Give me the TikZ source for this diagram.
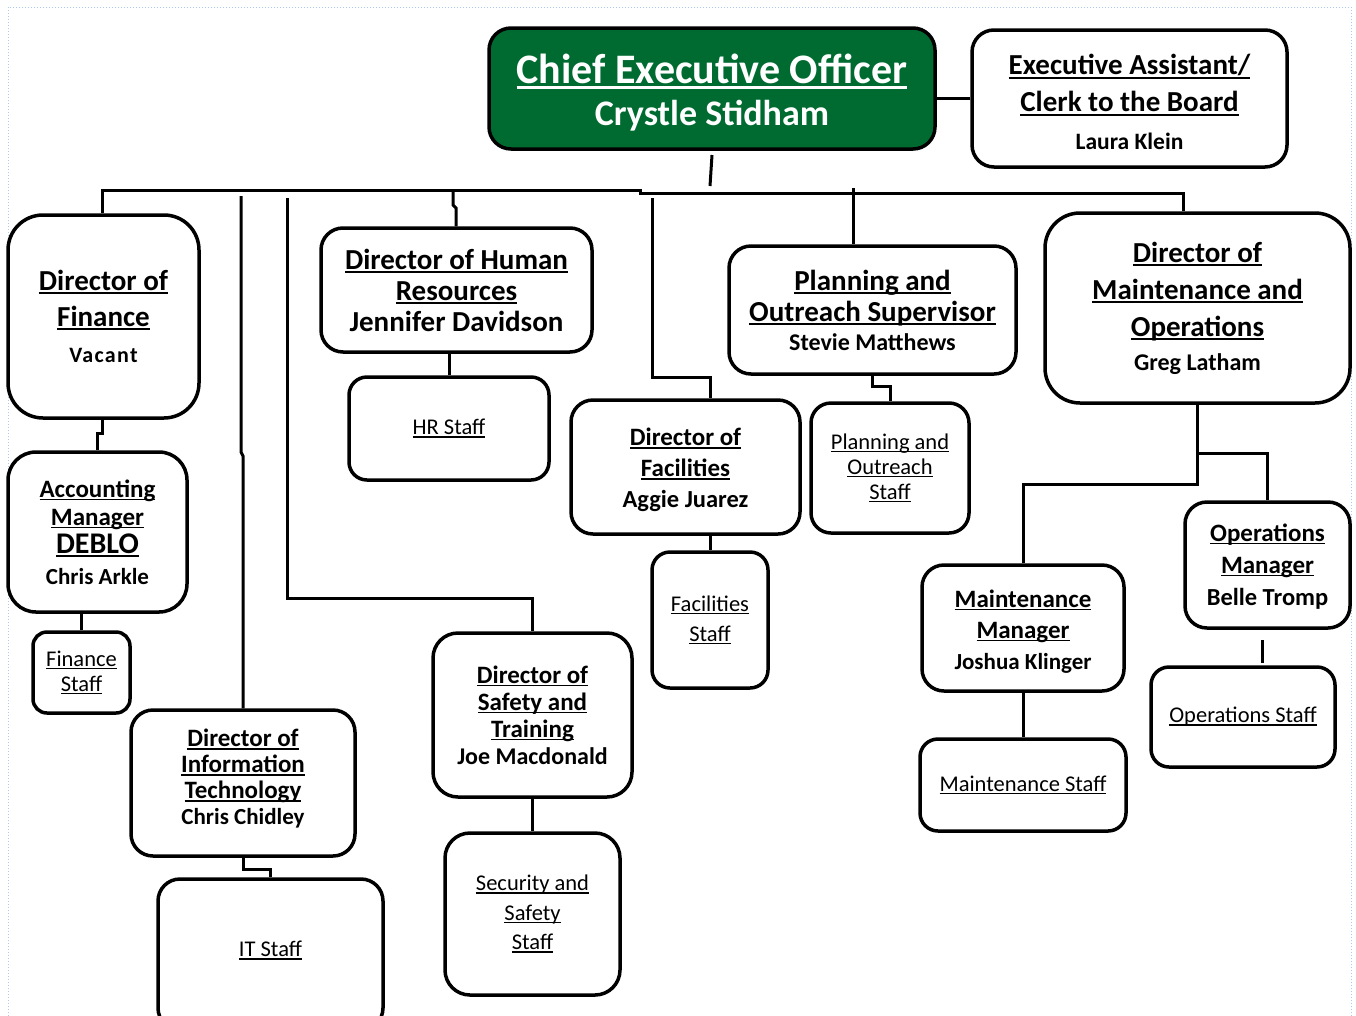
\documentclass[tikz,border=0pt]{standalone}
\usepackage{fontspec}
\setmainfont{Carlito}
\newfontfamily\spaced{Carlito}[LetterSpace=6]
\definecolor{ceogreen}{RGB}{0,107,49}
\definecolor{dotblue}{RGB}{170,200,240}
\newcommand{\fs}[2]{\fontsize{#1}{#2}\selectfont}
\newcommand{\tall}[1]{\rule{0pt}{#1}}
\newcommand{\deep}[1]{\rule[-#1]{0pt}{#1}}
\newsavebox\myulbox
\newcommand{\uline}[1]{\sbox\myulbox{#1}\rlap{\usebox\myulbox}\rule[-0.13em]{\wd\myulbox}{0.065em}}
\tikzset{
  box/.style={draw=black, line width=3.5pt, rounded corners=18pt, fill=white,
    align=center, inner sep=0pt},
  staff/.style={box, font=\fs{22.5}{25}},
  conn/.style={draw=black, line width=3pt},
}
\begin{document}
\begin{tikzpicture}[x=1pt,y=-1pt]
\useasboundingbox (0,0) rectangle (1356,1015);
\clip (0,0) rectangle (1356,1015);
\draw[dotblue, dotted, line width=1pt] (8,7) rectangle (1351,1040);

% ---- nodes ----
\node[box, fill=ceogreen, text=white, rounded corners=22pt, minimum width=446, minimum height=121,
  font=\bfseries\fs{42}{42}] (ceo) at (712,88.5) {\tall{37.5pt}\uline{Chief Executive Officer}\\{\fs{36}{40}Crystle Stidham}};
\node[box, rounded corners=22pt, minimum width=315, minimum height=137, font=\bfseries\fs{29}{37}]
  (ea) at (1129.5,98.5) {\tall{28pt}\uline{Executive Assistant/}\\\uline{Clerk to the Board}\\[1pt]{\fs{23.5}{24}Laura Klein}};

\node[box, rounded corners=35pt, minimum width=191, minimum height=203, font=\bfseries\fs{29}{36}]
  (fin) at (103.5,316.5) {\uline{Director of}\\\uline{Finance}\\{\spaced\fs{22}{24}Vacant}};
\node[box, rounded corners=28pt, minimum width=179, minimum height=160, font=\bfseries\fs{25}{28}]
  (acc) at (97.5,532) {\uline{Accounting}\\\uline{Manager}\\{\fs{30}{30}\uline{DEBLO}}\\[3pt]{\fs{23}{24}Chris Arkle}};
\node[staff, rounded corners=14pt, minimum width=97, minimum height=81]
  (finst) at (81.5,672.5) {\uline{Finance}\\\uline{Staff}};

\node[box, rounded corners=22pt, minimum width=224, minimum height=146, font=\bfseries\fs{25}{26}]
  (itdir) at (243,783) {\uline{Director of}\\\uline{Information}\\\uline{Technology}\\{\fs{23}{24}Chris Chidley\deep{12pt}}};
\node[staff, rounded corners=22pt, minimum width=225, minimum height=151]
  (itst) at (270.5,954.5) {\uline{IT Staff}\deep{11pt}};

\node[box, rounded corners=25pt, minimum width=199, minimum height=164, font=\bfseries\fs{25}{27}]
  (safety) at (532.5,715) {\uline{Director of}\\\uline{Safety and}\\\uline{Training}\\{\fs{24}{24}Joe Macdonald}};
\node[staff, rounded corners=25pt, minimum width=175, minimum height=162, font=\fs{22.5}{29.5}]
  (secst) at (532.5,914) {\uline{Security and}\\\uline{Safety}\\\uline{Staff}};

\node[box, rounded corners=22pt, minimum width=271, minimum height=124, font=\bfseries\fs{29}{31}]
  (hr) at (456.5,290) {\uline{Director of Human}\\\uline{Resources}\\Jennifer Davidson};
\node[staff, rounded corners=18pt, minimum width=200, minimum height=103]
  (hrst) at (449,428.5) {\uline{HR Staff}};

\node[box, rounded corners=22pt, minimum width=229, minimum height=134, font=\bfseries\fs{25}{31}]
  (fac) at (685.5,467) {\tall{23pt}\uline{Director of}\\\uline{Facilities}\\{\fs{24.5}{24}Aggie Juarez}};
\node[staff, rounded corners=18pt, minimum width=116, minimum height=136, font=\fs{22.5}{30}]
  (facst) at (710,620) {\uline{Facilities}\\\uline{Staff}};

\node[box, rounded corners=22pt, minimum width=287, minimum height=128, font=\bfseries\fs{29}{31}]
  (plan) at (872.5,310) {\uline{Planning and}\\\uline{Outreach Supervisor}\\[-2pt]{\fs{24}{24}Stevie Matthews}};
\node[staff, rounded corners=20pt, minimum width=158, minimum height=130]
  (planst) at (890,468) {\uline{Planning and}\\\uline{Outreach}\\\uline{Staff}};

\node[box, rounded corners=35pt, minimum width=305, minimum height=190, font=\bfseries\fs{29}{37}]
  (mdir) at (1197.5,308) {\uline{Director of}\\\uline{Maintenance and}\\\uline{Operations}\\[-3pt]{\fs{24}{24}Greg Latham}};
\node[box, rounded corners=22pt, minimum width=202, minimum height=126, font=\bfseries\fs{25}{31}]
  (mman) at (1023,628) {\tall{24pt}\uline{Maintenance}\\\uline{Manager}\\{\fs{23}{24}Joshua Klinger}};
\node[staff, rounded corners=18pt, minimum width=206, minimum height=92]
  (mst) at (1023,785) {\uline{Maintenance Staff}};
\node[box, rounded corners=22pt, minimum width=165, minimum height=126, font=\bfseries\fs{25}{32}]
  (oman) at (1267.5,565) {\tall{20pt}\uline{Operations}\\\uline{Manager}\\{\fs{24.5}{24}Belle Tromp}};
\node[staff, rounded corners=18pt, minimum width=184, minimum height=100]
  (ost) at (1243,717) {\uline{Operations Staff}};

% ---- free coordinates ----
\coordinate (c1) at (712,155);
\coordinate (c2) at (710,186);
\coordinate (b1) at (640,190);
\coordinate (b2) at (640,193);
\coordinate (h0) at (453,190);
\coordinate (h1) at (453,205);
\coordinate (h2) at (456,208);
\coordinate (p0) at (853,188);
\coordinate (i0) at (241,196);
\coordinate (i1) at (241,452);
\coordinate (i2) at (243,456);
\coordinate (s0) at (287,198);
\coordinate (s1) at (287,598);
\coordinate (f0) at (652,198);
\coordinate (f1) at (652,377);
\coordinate (o1) at (1262,640);
\coordinate (o2) at (1262,663);

% ---- connectors ----
\draw[conn] (ea.west) -- (ea.west -| ceo.east);
\draw[conn] (c1) -- (c2);
\draw[conn] ([xshift=-1.5pt]fin.north) |- (b1) -- (b2) -| ([xshift=-14.5pt]mdir.north);
\draw[conn] (h0) -- (h1) -- (h2) -- (hr.north -| h2);
\draw[conn] (p0) -- (plan.north -| p0);
\draw[conn] (i0) -- (i1) -- (i2) -- (itdir.north);
\draw[conn] (itdir.south) -- ++(0,12) -| (itst.north);
\draw[conn] (s0) -- (s1) -| (safety.north);
\draw[conn] (safety.south) -- (secst.north);
\draw[conn] (f0) -- (f1) -| (fac.north -| facst.north);
\draw[conn] (fac.south -| facst.north) -- (facst.north);
\draw[conn] (hrst.north) -- (hrst.north |- hr.south);
\draw[conn] ([xshift=-1.5pt]fin.south) -- ++(0,14) -| (acc.north);
\draw[conn] (finst.north) -- (finst.north |- acc.south);
\draw[conn] (plan.south) -- ++(0,11) -| (planst.north);
\draw[conn] (mdir.south) -- ++(0,80) -| (mman.north);
\draw[conn] (mdir.south) ++(0,49) -| (oman.north);
\draw[conn] (mman.south) -- (mst.north);
\draw[conn] (o1) -- (o2);
\end{tikzpicture}
\end{document}
